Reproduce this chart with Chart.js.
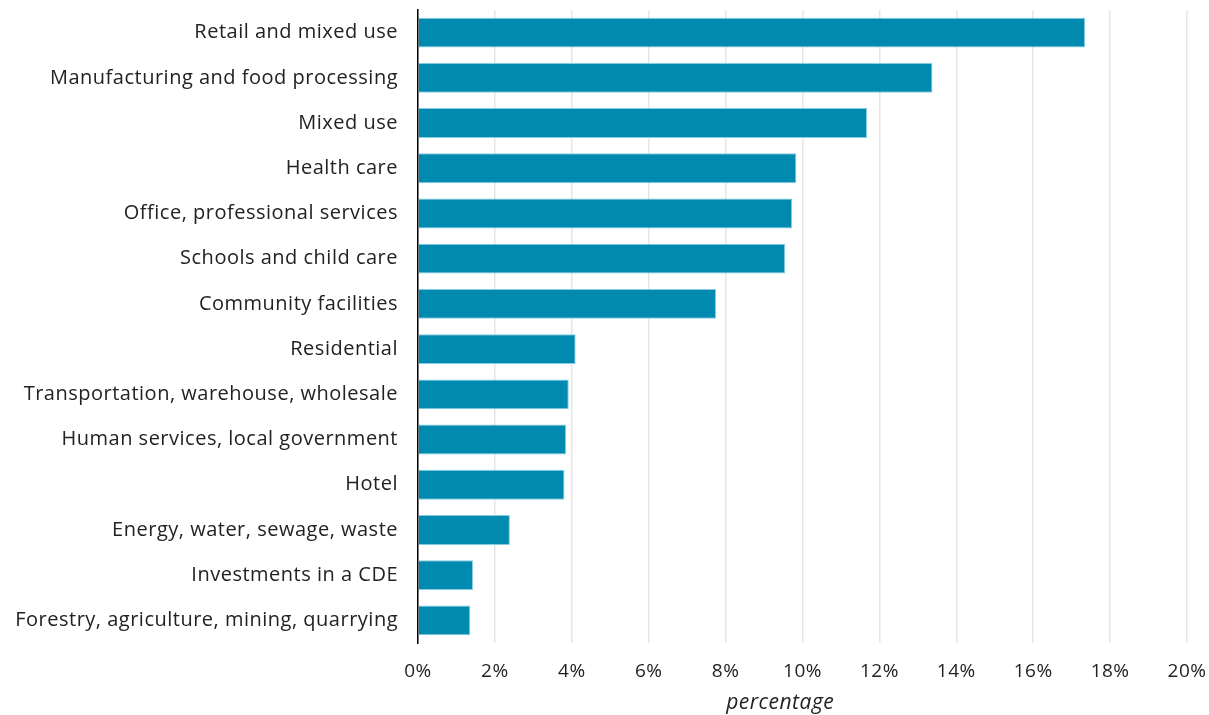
<!DOCTYPE html>
<html>
<head>
<meta charset="utf-8">
<script src="https://cdn.jsdelivr.net/npm/chart.js@4/dist/chart.umd.min.js"></script>
<style>
html,body{margin:0;padding:0;background:#fff;}
#wrap{width:1209px;height:715px;position:relative;}
</style>
</head>
<body>
<div id="wrap"><canvas id="c"></canvas></div>
<script>
const categories = [
  "Retail and mixed use",
  "Manufacturing and food processing",
  "Mixed use",
  "Health care",
  "Office, professional services",
  "Schools and child care",
  "Community facilities",
  "Residential",
  "Transportation, warehouse, wholesale",
  "Human services, local government",
  "Hotel",
  "Energy, water, sewage, waste",
  "Investments in a CDE",
  "Forestry, agriculture, mining, quarrying"
];
const shares = [17.35, 13.38, 11.68, 9.84, 9.73, 9.55, 7.75, 4.10, 3.92, 3.85, 3.81, 2.39, 1.43, 1.36];
const xTicks = [0, 2, 4, 6, 8, 10, 12, 14, 16, 18, 20];
const xTitle = "percentage";

const spacing = {
  id: 'spacing',
  beforeInit(chart) { chart.ctx.letterSpacing = '0.5px'; },
  beforeLayout(chart) { chart.ctx.letterSpacing = '0.5px'; },
  beforeDraw(chart) { chart.ctx.letterSpacing = '0.5px'; }
};

const axisTitle = {
  id: 'axisTitle',
  afterDraw(chart) {
    const ctx = chart.ctx;
    const a = chart.chartArea;
    ctx.save();
    ctx.letterSpacing = '0.5px';
    ctx.font = 'italic 21px "Open Sans"';
    ctx.fillStyle = '#222';
    ctx.textAlign = 'center';
    ctx.textBaseline = 'middle';
    ctx.fillText(xTitle, a.left + (a.right - a.left) * 0.471, a.bottom + 60);
    ctx.restore();
  }
};

new Chart(document.getElementById('c'), {
  type: 'bar',
  plugins: [spacing, axisTitle],
  data: {
    labels: categories,
    datasets: [{
      data: shares,
      backgroundColor: '#008AAF',
      borderColor: 'rgba(120,200,225,0.9)',
      borderWidth: 1,
      borderSkipped: 'start',
      categoryPercentage: 1,
      barPercentage: 0.66
    }]
  },
  options: {
    indexAxis: 'y',
    responsive: true,
    maintainAspectRatio: false,
    animation: false,
    layout: { padding: { top: 10, right: 22, left: 0, bottom: 0 } },
    plugins: { legend: { display: false }, tooltip: { enabled: false } },
    scales: {
      x: {
        min: 0, max: 20,
        afterBuildTicks: (s) => { s.ticks = xTicks.map(v => ({ value: v })); },
        afterFit: (s) => { s.height = 72; s.paddingLeft = 0; s.paddingRight = 0; },
        grid: { color: '#e6e6e6', lineWidth: 1.5, drawTicks: false },
        border: { display: false },
        ticks: {
          callback: (v) => v + '%',
          color: '#222',
          padding: 17,
          maxRotation: 0,
          font: { family: 'Open Sans', size: 19 }
        },
        title: { display: false }
      },
      y: {
        afterFit: (s) => { s.width = 418; s.paddingTop = 0; s.paddingBottom = 0; },
        grid: { display: false, drawTicks: false },
        border: { display: true, color: '#000', width: 1.5 },
        ticks: {
          color: '#222',
          padding: 20,
          autoSkip: false,
          font: { family: 'Open Sans', size: 20 }
        }
      }
    }
  }
});
</script>
</body>
</html>
